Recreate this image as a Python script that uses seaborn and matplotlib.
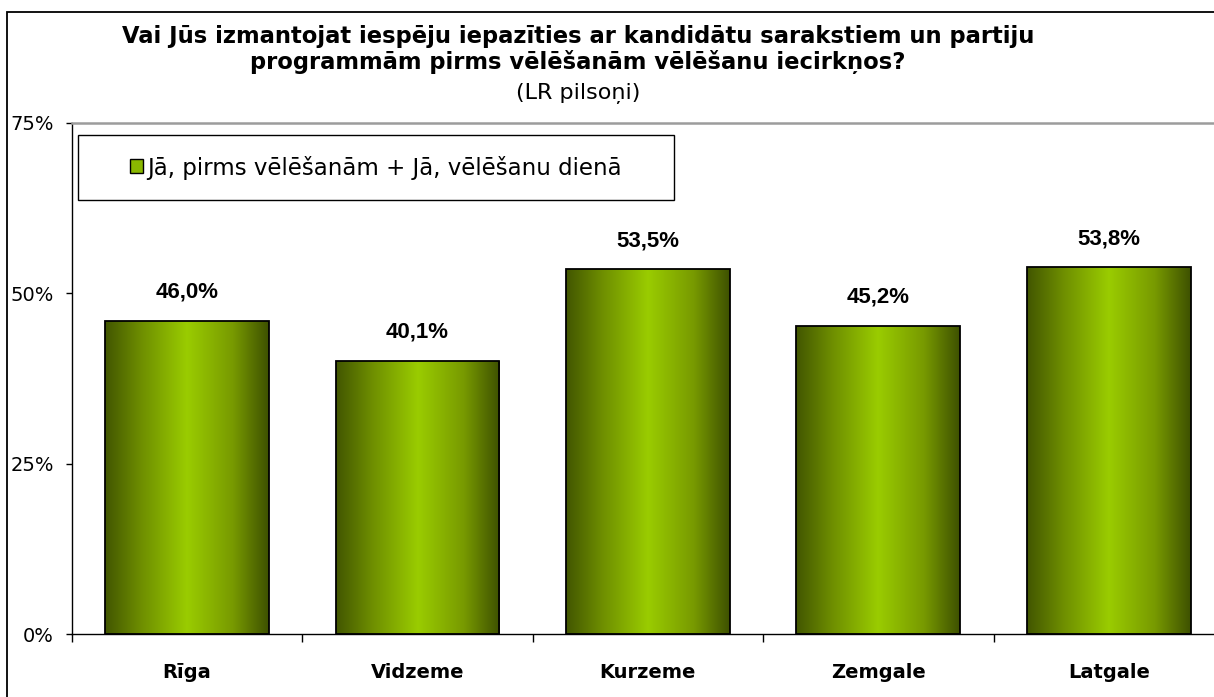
import numpy as np
import pandas as pd
import matplotlib
matplotlib.use("Agg")
import matplotlib.pyplot as plt
import matplotlib.patches as mpatches
from matplotlib.colors import LinearSegmentedColormap
import seaborn as sns

# Survey results by region
regions = ["Rīga", "Vidzeme", "Kurzeme", "Zemgale", "Latgale"]
shares = [46.0, 40.1, 53.5, 45.2, 53.8]
y_ticks = [0, 25, 50, 75]
y_tick_labels = ["0%", "25%", "50%", "75%"]
series_name = "Jā, pirms vēlēšanām + Jā, vēlēšanu dienā"
title_line1 = "Vai Jūs izmantojat iespēju iepazīties ar kandidātu sarakstiem un partiju"
title_line2 = "programmām pirms vēlēšanām vēlēšanu iecirkņos?"
subtitle = "(LR pilsoņi)"

df = pd.DataFrame({"region": regions, "share": shares})

sns.set_theme(style="white")
plt.rcParams["font.family"] = ["DejaVu Sans"]
plt.rcParams.update({"text.color": "black", "xtick.color": "black",
                     "ytick.color": "black", "axes.labelcolor": "black"})
NUM_FONT = ["Liberation Sans", "DejaVu Sans"]

W, H = 1214, 697
fig = plt.figure(figsize=(W / 100, H / 100), dpi=100)
fig.patch.set_facecolor("white")

# plot area in pixel units
left_px, right_px, top_px, bottom_px = 71.7, 1224, 122.7, 634.3
ax = fig.add_axes([left_px / W, (H - bottom_px) / H,
                   (right_px - left_px) / W, (bottom_px - top_px) / H])

sns.barplot(data=df, x="region", y="share", ax=ax, width=0.71,
            color="#99cc00", edgecolor="black", linewidth=1.3, saturation=1)

# horizontal olive gradient inside each bar
green_grad = LinearSegmentedColormap.from_list(
    "olive", [(0.0, "#425600"), (0.22, "#6e8e00"), (0.5, "#9acc00"),
              (0.78, "#789a00"), (1.0, "#3e5100")])
grad = np.linspace(0, 1, 256).reshape(1, -1)
for patch in ax.patches:
    x0, y0 = patch.get_x(), patch.get_y()
    w, h = patch.get_width(), patch.get_height()
    im = ax.imshow(grad, cmap=green_grad, aspect="auto",
                   extent=(x0, x0 + w, y0, y0 + h), zorder=patch.get_zorder() - 0.1,
                   interpolation="bilinear")
    im.set_clip_path(patch)
    patch.set_facecolor("none")

ax.set_xlim(-0.5, len(regions) - 0.5)
ax.set_ylim(0, 75)

# value labels
for i, v in enumerate(shares):
    ax.annotate(f"{v:.1f}%".replace(".", ","), (i, v), xytext=(0, 16.6),
                textcoords="offset points", ha="center", va="baseline",
                fontsize=16, fontweight="bold", color="black", family=NUM_FONT)

# axes styling
ax.set_xlabel("")
ax.set_ylabel("")
ax.set_yticks(y_ticks)
ax.set_yticklabels(y_tick_labels, fontsize=14)
ax.tick_params(axis="y", which="major", left=True, length=4, width=1,
               color="black", labelcolor="black", pad=8.9, direction="out")
ax.set_xticks(range(len(regions)))
ax.set_xticklabels(regions, fontsize=14, fontweight="bold")
for lbl in ax.get_xticklabels():
    lbl.set_va("baseline")
ax.set_xticks(np.arange(-0.5, len(regions), 1.0), minor=True)
ax.tick_params(axis="x", which="major", bottom=False, length=0, pad=31.7,
               labelcolor="black")
ax.tick_params(axis="x", which="minor", bottom=True, length=6, width=1,
               color="black", direction="out")
for side in ("left", "bottom"):
    ax.spines[side].set_color("black")
    ax.spines[side].set_linewidth(1.0)
ax.spines["right"].set_visible(False)
ax.spines["top"].set_color("#9c9c9c")
ax.spines["top"].set_linewidth(1.8)
ax.grid(False)

# legend: boxed, content centred
box_l, box_r, box_t, box_b = 78, 674, 135, 200
fig.add_artist(mpatches.Rectangle((box_l / W, 1 - box_b / H),
                                  (box_r - box_l) / W, (box_b - box_t) / H,
                                  transform=fig.transFigure, facecolor="white",
                                  edgecolor="black", linewidth=1.0, zorder=4))
handle = mpatches.Patch(facecolor="#8ab800", edgecolor="black", linewidth=1.0)
leg = fig.legend([handle], [series_name], loc="center",
                 bbox_to_anchor=((box_l + box_r) / 2 / W, 1 - (box_t + box_b) / 2 / H),
                 bbox_transform=fig.transFigure, fontsize=16.5, frameon=False,
                 handlelength=0.57, handleheight=0.57, handletextpad=0.2,
                 borderpad=0, borderaxespad=0, labelcolor="black")
leg.set_zorder(5)

# titles
title_x = 578 / W
fig.text(title_x, 1 - 42.5 / H, title_line1, ha="center", va="baseline",
         fontsize=16.3, fontweight="bold", color="black")
fig.text(title_x, 1 - 68.5 / H, title_line2, ha="center", va="baseline",
         fontsize=16.3, fontweight="bold", color="black")
fig.text(title_x, 1 - 98.5 / H, subtitle, ha="center", va="baseline",
         fontsize=16, color="black")

# outer chart border
fig.add_artist(mpatches.Rectangle((7.3 / W, -0.05), 1.2, 1 - 12.3 / H + 0.05,
                                  transform=fig.transFigure, fill=False,
                                  edgecolor="black", linewidth=1.3, clip_on=False))

fig.savefig("out.png", dpi=100, facecolor="white")
